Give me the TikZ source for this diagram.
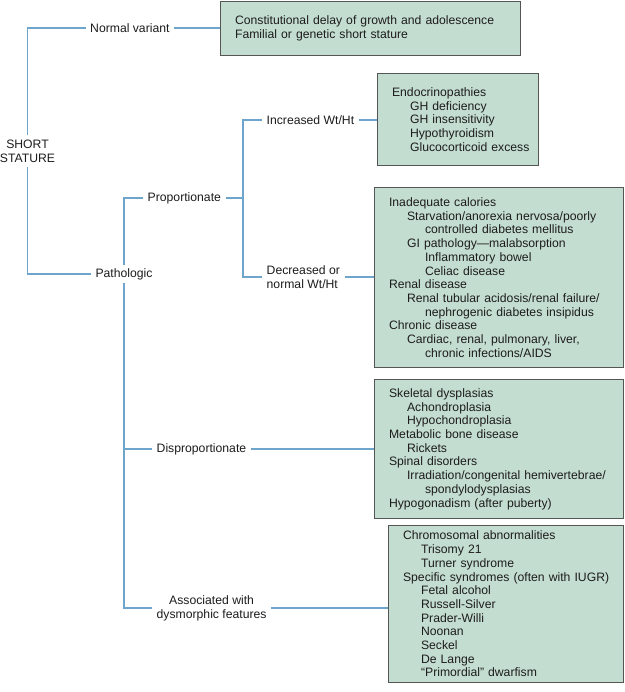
\documentclass[tikz,border=0pt]{standalone}
\usepackage{fontspec}
\setmainfont{Liberation Sans}
\definecolor{boxfill}{RGB}{195,222,208}
\definecolor{boxline}{RGB}{85,85,85}
\definecolor{linkblue}{RGB}{110,165,205}
\definecolor{textcol}{RGB}{30,28,28}
\newcommand{\rowO}[1]{\mbox{#1}}
\newcommand{\rowA}[1]{\hspace*{18pt}\mbox{#1}}
\newcommand{\rowB}[1]{\hspace*{36pt}\mbox{#1}}
\begin{document}
\begin{tikzpicture}[x=1pt,y=-1pt,
  every node/.style={font=\fontsize{12.2}{13.7}\selectfont, text=textcol},
  box/.style={draw=boxline, fill=boxfill, line width=1.1pt, inner xsep=14.5pt, inner ysep=0pt, align=left, anchor=north west},
  lab/.style={fill=white, inner xsep=4.5pt, inner ysep=3pt},
  link/.style={draw=linkblue, line width=1.3pt}]
\useasboundingbox (0,0) rectangle (624,692);

% boxes
\node[box, text width=271pt, minimum height=54.4pt] (b1) at (220,0.6)
  {\rowO{Constitutional delay of growth and adolescence}\\\rowO{Familial or genetic short stature}};
\node[box, text width=132pt, minimum height=92pt] (b2) at (377,73)
  {\rowO{Endocrinopathies}\\\rowA{GH deficiency}\\\rowA{GH insensitivity}\\\rowA{Hypothyroidism}\\\rowA{Glucocorticoid excess}};
\node[box, text width=220pt, minimum height=180pt] (b3) at (374,187)
  {\rowO{Inadequate calories}\\
   \rowA{Starvation/anorexia nervosa/poorly}\\
   \rowB{controlled diabetes mellitus}\\
   \rowA{GI pathology---malabsorption}\\
   \rowB{Inflammatory bowel}\\
   \rowB{Celiac disease}\\
   \rowO{Renal disease}\\
   \rowA{Renal tubular acidosis/renal failure/}\\
   \rowB{nephrogenic diabetes insipidus}\\
   \rowO{Chronic disease}\\
   \rowA{Cardiac, renal, pulmonary, liver,}\\
   \rowB{chronic infections/AIDS}};
\node[box, text width=220pt, minimum height=139pt] (b4) at (374,379)
  {\rowO{Skeletal dysplasias}\\
   \rowA{Achondroplasia}\\
   \rowA{Hypochondroplasia}\\
   \rowO{Metabolic bone disease}\\
   \rowA{Rickets}\\
   \rowO{Spinal disorders}\\
   \rowA{Irradiation/congenital hemivertebrae/}\\
   \rowB{spondylodysplasias}\\
   \rowO{Hypogonadism (after puberty)}};
\node[box, text width=206pt, minimum height=157pt] (b5) at (388,525)
  {\rowO{Chromosomal abnormalities}\\
   \rowA{Trisomy 21}\\
   \rowA{Turner syndrome}\\
   \rowO{Specific syndromes (often with IUGR)}\\
   \rowA{Fetal alcohol}\\
   \rowA{Russell-Silver}\\
   \rowA{Prader-Willi}\\
   \rowA{Noonan}\\
   \rowA{Seckel}\\
   \rowA{De Lange}\\
   \rowA{``Primordial'' dwarfism}};

% labels
\node[lab, align=center, inner ysep=5pt] (root) at (27.5,151) {SHORT\\STATURE};
\node[lab, anchor=west] (nv) at (85.5,28) {Normal variant};
\node[lab] (path) at (124,274) {Pathologic};
\node[lab, anchor=west] (prop) at (143,198) {Proportionate};
\coordinate (pj) at (243,198);
\node[lab, anchor=west] (inc) at (262,120) {Increased Wt/Ht};
\node[lab, anchor=west, align=left] (dec) at (262,277) {Decreased or\\normal Wt/Ht};
\node[lab, anchor=west] (disp) at (152,449) {Disproportionate};
\node[lab, anchor=west, align=center] (assoc) at (152,608) {Associated with\\dysmorphic features};

% connectors
\draw[link] (nv.west) -| (root.north);
\draw[link] (path.west) -| (root.south);
\draw[link] (nv.east) -- (nv.east -| b1.west);
\draw[link] (prop.west) -| (path.north);
\draw[link] (path.south) |- (disp.west);
\draw[link] (path.south) |- (assoc.west);
\draw[link] (prop.east) -- (pj);
\draw[link] (inc.west) -| (pj);
\draw[link] (dec.west) -| (pj);
\draw[link] (inc.east) -- (inc.east -| b2.west);
\draw[link] (dec.east) -- (dec.east -| b3.west);
\draw[link] (disp.east) -- (disp.east -| b4.west);
\draw[link] (assoc.east) -- (assoc.east -| b5.west);
\end{tikzpicture}
\end{document}
